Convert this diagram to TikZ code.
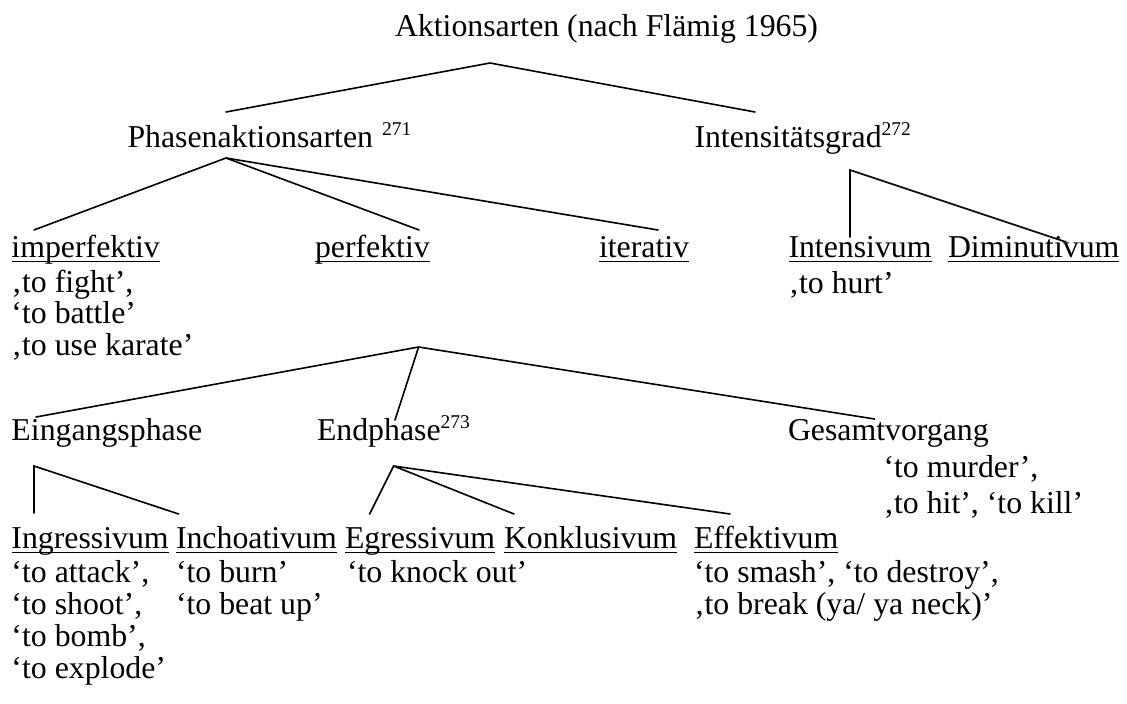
\documentclass[tikz,border=0pt]{standalone}
\usepackage{fontspec}
\setmainfont{Liberation Serif}
\newcommand\tf{\fontsize{31.8}{34}\selectfont}
\newcommand\supnum[1]{\raisebox{12pt}{\fontsize{19.5}{19.5}\selectfont #1}}
\begin{document}
\begin{tikzpicture}[x=1pt,y=-1pt,
  lbl/.style={anchor=base west, inner sep=0pt, outer sep=0pt, font=\tf},
  br/.style={line width=1.6pt, line cap=round, line join=miter},
  ul/.style={line width=1.5pt}]
\useasboundingbox (0,0) rectangle (1127,704);
% level 0
\node[lbl] (title) at (395,36) {Aktionsarten (nach Flämig 1965)};
% level 1
\node[lbl] (phasen) at (127.5,147) {Phasenaktionsarten\hspace{9pt}\supnum{271}};
\node[lbl] (intgrad) at (694.5,147) {Intensitätsgrad\supnum{272}};
% level 2
\node[lbl] (imperf) at (11.5,257) {imperfektiv};
\node[lbl] (perf) at (315,257) {perfektiv};
\node[lbl] (iter) at (599,257) {iterativ\hspace{5pt}};
\node[lbl] (intensiv) at (788.5,257) {Intensivum};
\node[lbl] (dimin) at (948,257) {Diminutivum};
\node[lbl] (exA) at (11.5,292) {‚to fight’,};
\node[lbl] (exB) at (11.5,323) {‘to battle’};
\node[lbl] (exC) at (11.5,355) {‚to use karate’};
\node[lbl] (exHurt) at (788.5,293) {‚to hurt’};
% level 3
\node[lbl] (eing) at (11.5,440) {Eingangsphase};
\node[lbl] (endph) at (317,440) {Endphase\supnum{273}};
\node[lbl] (gesamt) at (788,440) {Gesamtvorgang};
\node[lbl] (exMurder) at (883.5,477) {‘to murder’,};
\node[lbl] (exHit) at (883.5,513) {‚to hit’, ‘to kill’};
% level 4
\node[lbl] (ingr) at (11.5,548) {Ingressivum};
\node[lbl] (inch) at (176,548) {Inchoativum};
\node[lbl] (egr) at (345,548) {Egressivum};
\node[lbl] (konkl) at (504,548) {Konklusivum};
\node[lbl] (eff) at (694,548) {Effektivum};
\node[lbl] (exAttack) at (11.5,582) {‘to attack’,};
\node[lbl] (exShoot) at (11.5,614) {‘to shoot’,};
\node[lbl] (exBomb) at (11.5,646) {‘to bomb’,};
\node[lbl] (exExplode) at (11.5,678) {‘to explode’};
\node[lbl] (exBurn) at (176,582) {‘to burn’};
\node[lbl] (exBeat) at (176,614) {‘to beat up’};
\node[lbl] (exKnock) at (347,582) {‘to knock out’};
\node[lbl] (exSmash) at (694,582) {‘to smash’, ‘to destroy’,};
\node[lbl] (exBreak) at (694,614) {‚to break (ya/ ya neck)’};
% underlines
\foreach \n in {imperf,perf,iter,intensiv,dimin,ingr,inch,egr,konkl,eff}
  \draw[ul] ([yshift=-4.5pt]\n.base west) -- ([yshift=-4.5pt]\n.base east);
% branch points
\coordinate (tA) at (490,63);
\coordinate (tL) at (226,112);
\coordinate (tR) at (755,112);
\coordinate (pA) at (226,158);
\coordinate (p1) at (34,230);
\coordinate (p2) at (419,230);
\coordinate (p3) at (658,230);
\coordinate (iA) at (850,170);
\coordinate (i1) at (850,237);
\coordinate (i2) at (1066,242);
\coordinate (fA) at (418.6,347);
\coordinate (f1) at (36,417);
\coordinate (f2) at (395,420);
\coordinate (f3) at (874.6,419);
\coordinate (eA) at (34,466);
\coordinate (e1) at (34,513);
\coordinate (e2) at (178.6,514);
\coordinate (nA) at (393.6,466);
\coordinate (n1) at (369.6,514);
\coordinate (n2) at (514,514);
\coordinate (n3) at (730,514);
% connectors
\draw[br] (tL) -- (tA) -- (tR);
\draw[br] (p1) -- (pA) -- (p2);
\draw[br] (pA) -- (p3);
\draw[br] (i1) -- (iA) -- (i2);
\draw[br] (f1) -- (fA) -- (f3);
\draw[br] (fA) -- (f2);
\draw[br] (e1) -- (eA) -- (e2);
\draw[br] (n1) -- (nA) -- (n3);
\draw[br] (nA) -- (n2);
\end{tikzpicture}
\end{document}
